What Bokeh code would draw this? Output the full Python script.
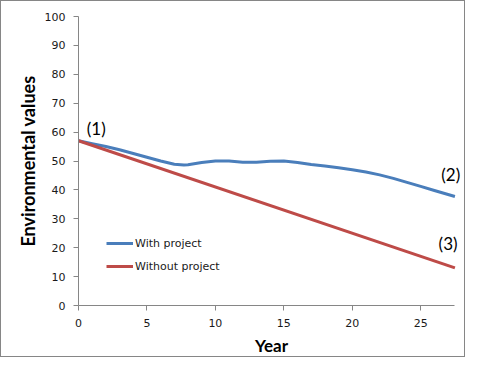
from bokeh.plotting import figure
from bokeh.models import Range1d, FixedTicker, Legend, LegendItem, LabelSet, ColumnDataSource
from bokeh.core.properties import value
from bokeh.embed import file_html
from bokeh.resources import INLINE

# ---- data ----
years_with = [0, 1, 2, 3, 4, 5, 6, 7, 7.7, 8, 9, 10, 11, 12, 13, 14, 15, 16, 17, 18,
              19, 20, 21, 22, 23, 24, 25, 26, 27, 27.5]
values_with = [57.0, 56.0, 55.0, 53.9, 52.6, 51.3, 50.0, 48.9, 48.6, 48.7, 49.5, 50.0, 50.0,
               49.6, 49.6, 49.9, 50.0, 49.5, 48.8, 48.3, 47.7, 47.0, 46.2, 45.2, 44.0, 42.6,
               41.2, 39.8, 38.4, 37.7]
years_without = [0, 27.5]
values_without = [57.0, 13.0]

x_ticks = [0, 5, 10, 15, 20, 25]
y_ticks = [0, 10, 20, 30, 40, 50, 60, 70, 80, 90, 100]

note_text = ["(1)", "(2)", "(3)"]
note_x = [1.3, 27.2, 27.0]
note_y = [61.2, 45.2, 21.5]

BLUE = "#4A7EBB"
RED = "#BE4B48"
AXIS = "#868686"

p = figure(width=465, height=357, output_backend="svg", toolbar_location=None,
           x_range=Range1d(0, 28.2), y_range=Range1d(0, 100),
           min_border_left=77, min_border_right=2, min_border_top=15, min_border_bottom=53)
p.styles = {"border": "1px solid #868686", "box-sizing": "border-box"}
p.outline_line_color = None
p.grid.visible = False
p.background_fill_color = "white"
p.border_fill_color = "white"

r1 = p.line(years_with, values_with, line_color=BLUE, line_width=3)
r2 = p.line(years_without, values_without, line_color=RED, line_width=3)

for ax in (p.xaxis[0], p.yaxis[0]):
    ax.axis_line_color = AXIS
    ax.major_tick_line_color = AXIS
    ax.major_tick_out = 5
    ax.major_tick_in = 0
    ax.minor_tick_line_color = None
    ax.major_label_text_font = "DejaVu Sans"
    ax.major_label_text_font_size = "11px"
    ax.major_label_text_color = "#1a1a1a"
    ax.axis_label_text_font = "Lato"
    ax.axis_label_text_font_style = "bold"
    ax.axis_label_text_color = "black"

p.xaxis.bounds = (0, 27.5)
p.xaxis.ticker = FixedTicker(ticks=x_ticks)
p.yaxis.ticker = FixedTicker(ticks=y_ticks)
p.xaxis.axis_label = "Year"
p.yaxis.axis_label = "Environmental values"
p.xaxis.axis_label_text_font_size = "17px"
p.yaxis.axis_label_text_font_size = "18px"
p.xaxis.major_label_standoff = 8
p.yaxis.major_label_standoff = 8
p.xaxis.axis_label_standoff = 5
p.yaxis.axis_label_standoff = 3

legend = Legend(items=[LegendItem(label="With project", renderers=[r1]),
                       LegendItem(label="Without project", renderers=[r2])],
                location=(28, 29), padding=0, margin=0, spacing=3,
                glyph_width=27, glyph_height=20, label_height=20, label_standoff=2,
                label_text_font="DejaVu Sans", label_text_font_size="11px",
                label_text_color="#1a1a1a",
                border_line_color=None, background_fill_alpha=0)
p.add_layout(legend, "center")

src = ColumnDataSource(dict(x=note_x, y=note_y, t=note_text))
labels = LabelSet(x="x", y="y", text="t", source=src, text_font=value("Lato"),
                  text_font_size=value("17px"), text_align="center", text_baseline="middle",
                  text_color="black")
p.add_layout(labels)

open("out.html", "w").write(file_html(p, INLINE))
